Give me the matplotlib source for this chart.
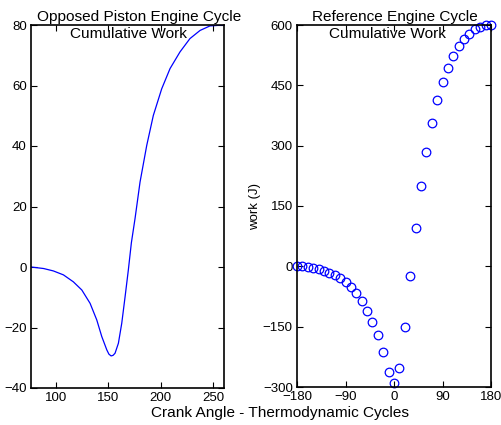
import matplotlib
matplotlib.use("Agg")
import matplotlib.pyplot as plt

plt.rcParams['font.family'] = ['Liberation Sans', 'DejaVu Sans']

# left panel: opposed piston engine, cumulative work vs crank angle
op_angle = [76, 88, 97.4, 107, 116.5, 124.6, 132.5, 138.9, 143.7, 148.5, 150.5,
            152.6, 154.5, 156.4, 159.6, 162.8, 166, 169.1, 172, 175.5, 180.3,
            186.7, 193, 201, 209, 218.5, 228, 237.7, 247.2, 256.8, 260.6]
op_work = [0, -0.5, -1.3, -2.6, -4.9, -7.6, -12, -17.5, -23, -27.4, -28.8,
           -29.4, -29.2, -28.5, -25.2, -18.6, -9.8, -1.0, 8, 16, 28.1,
           40.2, 50.1, 58.9, 65.6, 71.1, 75.5, 78.2, 79.7, 79.9, 79.9]

# right panel: reference engine, cumulative work (J) every 10 degrees
ref_angle = [-180, -170, -160, -150, -140, -130, -120, -110, -100, -90, -80, -70,
             -60, -50, -40, -30, -20, -10, 0, 10, 20, 30, 40, 50, 60, 70, 80,
             90, 100, 110, 120, 130, 140, 150, 160, 170, 180]
ref_work = [0, 0, -1, -3, -6, -11, -16, -21, -30, -38, -52, -67,
            -86, -110, -138, -171, -212, -262, -289, -254, -152, -24, 95, 200, 285, 356, 414,
            459, 494, 523, 548, 565, 578, 589, 596, 599, 600]

W, H = 502, 425
fig = plt.figure(figsize=(W / 100, H / 100), dpi=100)

ax1 = fig.add_axes([31 / W, 37 / H, 193 / W, 363 / H])
ax2 = fig.add_axes([297 / W, 38 / H, 194 / W, 362 / H])

ax1.plot(op_angle, op_work, color='blue', lw=0.9)
ax1.set_xlim(76, 260.6)
ax1.set_ylim(-40, 80)
ax1.set_xticks([100, 150, 200, 250])
ax1.set_yticks([-40, -20, 0, 20, 40, 60, 80])

ax2.plot(ref_angle, ref_work, 'o', mfc='none', mec='blue', ms=6.2, mew=0.9, clip_on=False)
ax2.set_xlim(-180, 180)
ax2.set_ylim(-300, 600)
ax2.set_xticks([-180, -90, 0, 90, 180])
ax2.set_yticks([-300, -150, 0, 150, 300, 450, 600])
ax2.set_ylabel('work (J)', fontsize=9.5, labelpad=1)

for ax in (ax1, ax2):
    ax.tick_params(direction='in', length=4, width=0.8, labelsize=9.5,
                   top=True, right=True, pad=3)
    for s in ax.spines.values():
        s.set_linewidth(1.2)

# titles, two lines each
fig.text(139 / W, 1 - 16.5 / H, 'Opposed Piston Engine Cycle', ha='center', va='center', fontsize=11.1)
fig.text(129 / W, 1 - 34 / H, 'Cumulative Work', ha='center', va='center', fontsize=11.1)
fig.text(395 / W, 1 - 16.5 / H, 'Reference Engine Cycle', ha='center', va='center', fontsize=11.1)
fig.text(387.5 / W, 1 - 34 / H, 'Cumulative Work', ha='center', va='center', fontsize=11.1)

fig.text(280 / W, 12 / H, 'Crank Angle - Thermodynamic Cycles', ha='center', va='center', fontsize=11.1)

fig.savefig('out.png', dpi=100)
